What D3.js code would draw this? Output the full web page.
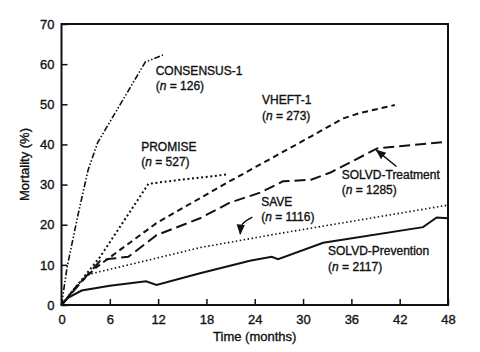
<!DOCTYPE html>
<html lang="en">
<head>
    <meta charset="UTF-8">
    <title>Mortality over time</title>
    <script src="https://d3js.org/d3.v7.min.js"></script>
    <style>
        body { margin: 0; background: #fff; }
        text {
            font-family: "Liberation Sans", Arial, sans-serif;
            fill: #111;
            stroke: #111;
            stroke-width: 0.35px;
        }
        .tick text { font-size: 13px; }
        .lab { font-size: 12px; }
    </style>
</head>
<body>
<script>
    const width = 480;
    const height = 352;
    const margin = {top: 24, right: 32, bottom: 47, left: 61.5};

    // x = months, y = mortality %
    const xTicks = [0, 6, 12, 18, 24, 30, 36, 42, 48];
    const yTicks = [0, 10, 20, 30, 40, 50, 60, 70];

    const consensus = [[0,0],[0.7,9.5],[2,22],[3.3,33.6],[4.5,40.5],[10.4,60.5],[12.6,62.3]];
    const promise = [[0,0],[4.8,12],[10.8,30.2],[14,31],[20.5,32.5]];
    const vheft = [[0,0],[2,5],[4.4,9.5],[11.8,20.4],[19.7,29.5],[30.9,41.9],[35,46.5],[37,47.8],[41.4,49.8]];
    const solvdT = [[0,0],[3,7],[4.8,11],[6,11.5],[8.3,12],[11.8,17.4],[17.2,21.6],[20.9,25.5],
                    [24.7,28],[27.5,30.8],[31,31.2],[33.4,33],[39.2,39],[48,40.7]];
    const save = [[0,0],[1.5,4],[3.3,7.6],[10,10.8],[17.2,14.3],[27,17.8],[37.1,21.2],[48,24.9]];
    const solvdP = [[0,0],[0.8,1.8],[2.5,3.6],[6,4.8],[10.5,5.9],[11.8,5.0],[17.2,7.9],[23.4,11],
                    [26.1,12],[26.9,11.4],[32.5,15.5],[44.9,19.4],[46.6,21.8],[48,21.6]];

    const series = [
        {name: "CONSENSUS-1", n: "126", data: consensus, dash: "6,2,1.5,2,1.5,2", w: 1.6, label: [11.7, 57.4]},
        {name: "PROMISE", n: "527", data: promise, dash: "2,2.6", w: 2, label: [9.9, 38.4]},
        {name: "VHEFT-1", n: "273", data: vheft, dash: "6,4", w: 2, label: [24.9, 50.0]},
        {name: "SOLVD-Treatment", n: "1285", data: solvdT, dash: "11,5", w: 2, label: [34.8, 31.5]},
        {name: "SAVE", n: "1116", data: save, dash: "1.5,2.5", w: 1.6, label: [24.8, 24.7]},
        {name: "SOLVD-Prevention", n: "2117", data: solvdP, dash: null, w: 2, label: [33.1, 12.4]}
    ];

    // annotation arrows (data units)
    const solvdArrow = [[41.6, 34.5], [39.1, 38.6]];
    const saveArrow = [[23.7, 21.9], [22.5, 20.2], [22.2, 17.7]];

    const svg = d3.select("body").append("svg")
            .attr("width", width).attr("height", height);

    const x = d3.scaleLinear().domain([0, 48]).range([margin.left, width - margin.right]);
    const y = d3.scaleLinear().domain([0, 70]).range([height - margin.bottom, margin.top]);

    svg.append("defs").append("marker")
            .attr("id", "head")
            .attr("viewBox", "0 0 10 10")
            .attr("refX", 9).attr("refY", 5)
            .attr("markerWidth", 7).attr("markerHeight", 7)
            .attr("orient", "auto")
            .append("path")
            .attr("d", "M0,1L10,5L0,9z")
            .style("fill", "#111");

    // axes with inward ticks
    svg.append("g")
            .attr("transform", `translate(0,${y(0)})`)
            .call(d3.axisBottom(x).tickValues(xTicks).tickSize(-6).tickPadding(10))
            .call(g => g.select(".domain").remove());
    svg.append("g")
            .attr("transform", `translate(${x(0)},0)`)
            .call(d3.axisLeft(y).tickValues(yTicks).tickSize(-6).tickPadding(7))
            .call(g => g.select(".domain").remove());
    svg.selectAll(".tick line").style("stroke", "#111").style("stroke-width", 1.5);

    // frame
    svg.append("rect")
            .attr("x", x(0)).attr("y", y(70))
            .attr("width", x(48) - x(0)).attr("height", y(0) - y(70))
            .style("fill", "none").style("stroke", "#111").style("stroke-width", 2);

    svg.append("text")
            .attr("x", (x(0) + x(48)) / 2).attr("y", 341)
            .attr("text-anchor", "middle")
            .style("font-size", "13px")
            .text("Time (months)");
    svg.append("text")
            .attr("transform", `translate(29,${(y(0) + y(70)) / 2}) rotate(-90)`)
            .attr("text-anchor", "middle")
            .style("font-size", "13px")
            .text("Mortality (%)");

    const line = d3.line().x(d => x(d[0])).y(d => y(d[1]));

    svg.selectAll("path.series")
            .data(series)
            .enter()
            .append("path")
            .attr("class", "series")
            .attr("d", d => line(d.data))
            .style("fill", "none")
            .style("stroke", "#111")
            .style("stroke-width", d => d.w)
            .style("stroke-dasharray", d => d.dash);

    const labels = svg.selectAll("text.lab")
            .data(series)
            .enter()
            .append("text")
            .attr("class", "lab")
            .attr("x", d => x(d.label[0]))
            .attr("y", d => y(d.label[1]));
    labels.append("tspan").text(d => d.name);
    const second = labels.append("tspan")
            .attr("x", d => x(d.label[0]))
            .attr("dy", 15.5);
    second.append("tspan").text("(");
    second.append("tspan").style("font-style", "italic").text("n");
    second.append("tspan").text(d => ` = ${d.n})`);

    // arrows
    svg.append("path")
            .attr("d", line(solvdArrow))
            .style("fill", "none").style("stroke", "#111").style("stroke-width", 1.5)
            .attr("marker-end", "url(#head)");
    svg.append("path")
            .attr("d", d3.line().x(d => x(d[0])).y(d => y(d[1])).curve(d3.curveNatural)(saveArrow))
            .style("fill", "none").style("stroke", "#111").style("stroke-width", 1.5)
            .attr("marker-end", "url(#head)");
</script>
</body>
</html>
